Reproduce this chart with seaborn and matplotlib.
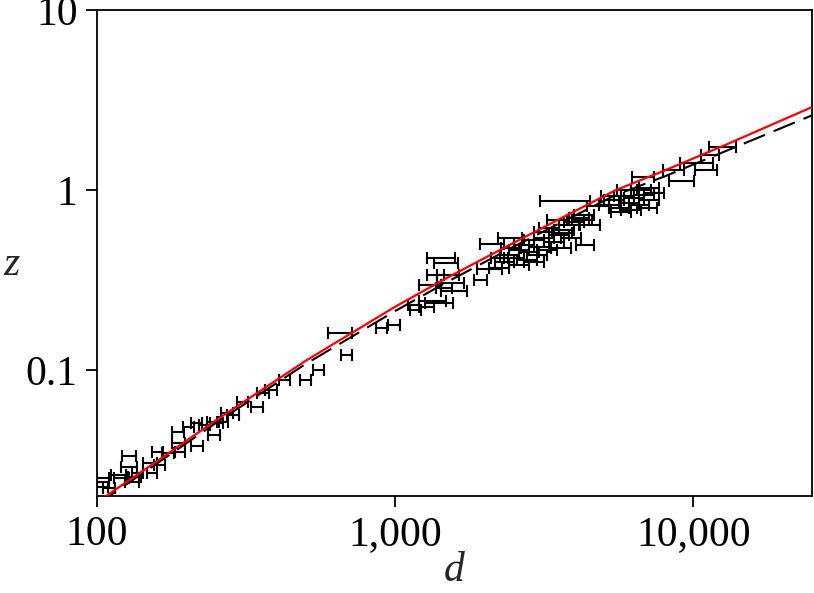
import numpy as np
import pandas as pd
import matplotlib
matplotlib.use("Agg")
import matplotlib.pyplot as plt
import matplotlib.ticker as mticker
import seaborn as sns

# measured points: distance d, redshift z, half-width of the d error bar
d = [105, 105, 104, 110, 118, 121, 131, 134, 128, 128, 137, 153, 151, 162, 160,
     173, 190, 187, 188, 203, 216, 216, 247, 245, 230, 252, 264, 273, 286, 308,
     344, 360, 383, 426, 501, 554, 688, 656, 901, 989, 1153, 1172, 1410, 1315,
     1465, 1367, 1275, 1345, 1545, 1582, 1432, 1488, 1933, 2075, 2123, 2438,
     1511, 2239,
     2239, 2328, 2421, 2512, 2612, 2455, 2716, 2825, 2931, 3048, 3170, 2612,
     2779, 3000, 3243, 3420, 3556, 3296, 3698, 3846, 3990, 3499, 4150, 4315,
     3170, 2931, 3614, 3900, 3640, 4246, 4519, 4345,
     3784, 4808, 5236, 5433, 5649, 5873, 6104, 6339, 6592, 6854, 7125, 5741,
     6197, 6698, 7396, 5312, 6012, 7015, 6808, 7125, 8630, 9183, 10304, 11066,
     11410, 12610]
z = [0.0251, 0.0239, 0.0224, 0.0221, 0.0261, 0.0251, 0.0239, 0.0255, 0.0333,
     0.0289, 0.0268, 0.0268, 0.0304, 0.0297, 0.0350, 0.0346, 0.0350, 0.0453,
     0.0393, 0.0482, 0.0508, 0.0378, 0.0435, 0.0514, 0.0495, 0.0508, 0.0514,
     0.0577, 0.0562, 0.0664, 0.0623, 0.0745, 0.0774, 0.0880, 0.0880, 0.100,
     0.121, 0.160, 0.171, 0.178, 0.230, 0.215, 0.236, 0.297, 0.285, 0.337,
     0.224, 0.242, 0.304, 0.275, 0.419, 0.393, 0.316, 0.364, 0.501, 0.541,
     0.337, 0.419,
     0.369, 0.398, 0.435, 0.419, 0.464, 0.476, 0.494, 0.453, 0.527, 0.482,
     0.541, 0.383, 0.408, 0.435, 0.464, 0.514, 0.562, 0.615, 0.600, 0.640,
     0.664, 0.681, 0.699, 0.726, 0.585, 0.398, 0.476, 0.541, 0.577, 0.681,
     0.640, 0.494,
     0.869, 0.815, 0.826, 0.880, 0.794, 0.926, 0.847, 0.903, 0.826, 0.938,
     0.880, 0.755, 0.774, 1.0, 0.962, 0.926, 1.0, 0.794, 1.18, 1.026, 1.29,
     1.12, 1.41, 1.29, 1.56, 1.73]
d_err = [5, 5, 5, 5, 7, 7, 7, 7, 7, 8, 6, 6, 8, 7, 7, 8, 8, 9, 9, 9, 9, 10, 11,
         11, 10, 12, 12, 13, 13, 14, 15, 16, 17, 18, 20, 25, 28, 60, 40, 45, 50,
         50, 150, 110, 90, 90, 70, 140, 160, 160, 150, 140, 100, 200, 200, 230,
         130, 150,
         170, 170, 180, 190, 200, 190, 210, 220, 230, 240, 250, 200, 210, 230,
         250, 260, 270, 250, 280, 290, 300, 270, 320, 330, 250, 230, 280, 300,
         280, 330, 350, 300,
         730, 400, 420, 430, 450, 470, 490, 500, 520, 550, 570, 460, 490, 530,
         590, 420, 480, 560, 600, 560, 700, 900, 1300, 900, 800, 1300]

# model curves
curve_d = [100, 150, 250, 500, 1000, 1500, 2500, 3500, 5500, 8000, 13000, 25000]
red_z = [0.0185, 0.0292, 0.0525, 0.1125, 0.225, 0.327, 0.510, 0.681, 1.0,
         1.283, 1.80, 2.89]
dash_z = [0.0180, 0.0284, 0.0508, 0.108, 0.213, 0.310, 0.485, 0.645, 0.94,
          1.19, 1.66, 2.60]

pts = pd.DataFrame({"d": d, "z": z, "d_err": d_err})
curves = pd.DataFrame({"d": curve_d, "red": red_z, "dash": dash_z})

sns.set_style("ticks")
plt.rcParams["font.family"] = ["Liberation Serif", "DejaVu Serif"]

fig = plt.figure(figsize=(8.14, 5.93), dpi=100)
ax = fig.add_axes([97 / 814, 1 - 496 / 593, 715 / 814, 486 / 593])

ax.errorbar(pts["d"], pts["z"], xerr=pts["d_err"], fmt="none", ecolor="black",
            elinewidth=1.5, capsize=4, capthick=1.5, zorder=2)
sns.lineplot(data=curves, x="d", y="dash", ax=ax, color="black", lw=1.5,
             linestyle=(0, (11, 4.5)), zorder=3)
sns.lineplot(data=curves, x="d", y="red", ax=ax, color="red", lw=1.6, zorder=4)

ax.set_xscale("log")
ax.set_yscale("log")
ax.set_xlim(100, 25000)
ax.set_ylim(0.02, 10)
ax.xaxis.set_major_locator(mticker.FixedLocator([100, 1000, 10000]))
ax.yaxis.set_major_locator(mticker.FixedLocator([0.1, 1, 10]))
ax.xaxis.set_major_formatter(mticker.FuncFormatter(lambda v, p: f"{v:,.0f}"))
ax.yaxis.set_major_formatter(mticker.FuncFormatter(lambda v, p: f"{v:g}"))
ax.minorticks_off()
ax.tick_params(direction="out", length=8, width=1.3, labelsize=30, pad=6,
               color="black", labelcolor="black")
for s in ax.spines.values():
    s.set_linewidth(1.3)
    s.set_color("black")
    s.set_visible(True)

ax.set_xlabel("d", fontsize=30, style="italic")
ax.set_ylabel("z", fontsize=30, style="italic", rotation=0, ha="center",
              va="baseline")
ax.yaxis.set_label_coords(-0.12, 0.455)
ax.xaxis.set_label_coords(0.5, -0.115)

fig.savefig("out.png", dpi=100)
